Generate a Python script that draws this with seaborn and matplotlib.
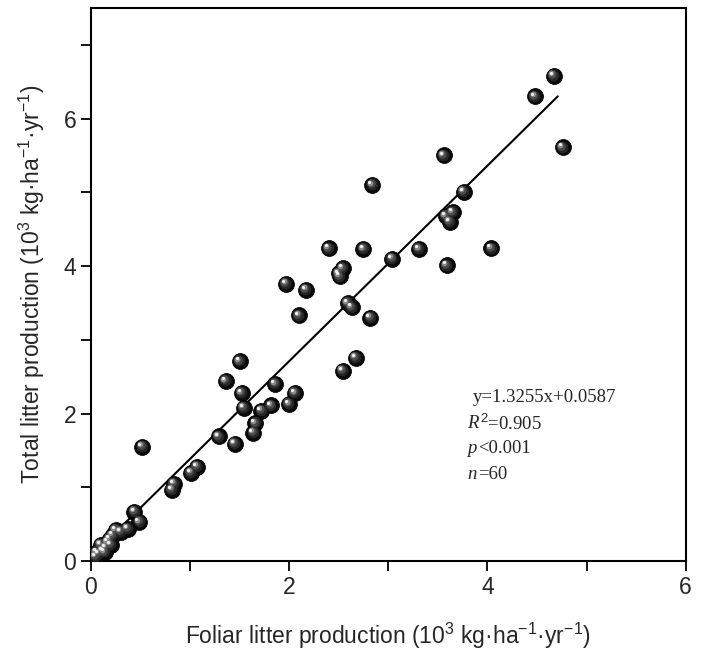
import numpy as np
import pandas as pd
import matplotlib
matplotlib.use("Agg")
import matplotlib.pyplot as plt
import matplotlib.transforms as mtransforms
import seaborn as sns

# foliar vs total litter production (10^3 kg ha-1 yr-1)
foliar = [4.67, 4.48, 4.76, 3.56, 2.84, 3.76, 3.65, 3.62, 2.75, 3.04,
          3.31, 3.59, 4.04, 2.40, 2.54, 2.51, 1.97, 2.17, 2.10, 2.59,
          2.63, 2.82, 2.67, 2.54, 1.50, 1.36, 1.86, 1.52, 2.06, 2.00,
          1.82, 1.72, 1.54, 1.66, 1.64, 1.29, 1.45, 1.07, 1.01, 0.84,
          0.82, 0.52, 0.44, 0.49, 0.37, 0.25, 0.19, 0.20, 0.15, 0.12,
          0.08, 0.05, 0.10, 0.17, 0.14, 0.22, 0.30, 0.06, 2.50, 3.58]
total = [6.58, 6.30, 5.61, 5.50, 5.10, 5.01, 4.73, 4.60, 4.23, 4.10,
         4.23, 4.01, 4.24, 4.24, 3.97, 3.86, 3.76, 3.68, 3.33, 3.50,
         3.44, 3.30, 2.76, 2.58, 2.71, 2.44, 2.40, 2.28, 2.28, 2.13,
         2.11, 2.04, 2.08, 1.87, 1.74, 1.69, 1.59, 1.28, 1.20, 1.05,
         0.97, 1.55, 0.67, 0.53, 0.44, 0.42, 0.30, 0.22, 0.18, 0.14,
         0.10, 0.06, 0.22, 0.26, 0.12, 0.35, 0.40, 0.12, 3.90, 4.68]

slope, intercept = 1.3255, 0.0587
x_ticks = [0, 2, 4, 6]
y_ticks = [0, 2, 4, 6]

df = pd.DataFrame({"foliar": foliar, "total": total})

sns.set_style("ticks")
plt.rcParams["font.family"] = ["Liberation Sans", "DejaVu Sans"]
plt.rcParams["mathtext.fontset"] = "custom"
plt.rcParams["mathtext.rm"] = "Liberation Sans"
plt.rcParams["mathtext.it"] = "Liberation Sans:italic"

fig = plt.figure(figsize=(7.04, 6.64), dpi=100)
ax = fig.add_axes([0.129, 0.155, 0.845, 0.833])

# fitted line
xs = np.array([df.foliar.min(), df.foliar.max() - 0.05])
fit = pd.DataFrame({"x": xs, "y": slope * xs + intercept})
sns.lineplot(data=fit, x="x", y="y", color="black", linewidth=1.5, ax=ax, zorder=2)

# shaded "ball" markers: dark base + lighter layers shifted up-left
sns.scatterplot(data=df, x="foliar", y="total", s=130, color="#0a0a0a",
                edgecolor="#000000", linewidth=0.6, ax=ax, zorder=3)
layers = [(70, "#262626", 0.6), (38, "#4a4a4a", 1.2), (16, "#8c8c8c", 1.7), (5, "#f2f2f2", 2.1)]
for size, col, off in layers:
    tr = mtransforms.offset_copy(ax.transData, fig=fig, x=-off, y=off, units="points")
    ax.scatter(df.foliar, df.total, s=size, color=col, linewidths=0, transform=tr, zorder=4)

ax.set_xlim(0, 6)
ax.set_ylim(0, 7.5)
ax.set_xticks(x_ticks)
ax.set_yticks(y_ticks)
ax.set_xticks([1, 3, 5], minor=True)
ax.set_yticks([1, 3, 5, 7], minor=True)
ax.tick_params(which="both", direction="out", length=7, width=1.3, labelsize=16.5,
               top=False, right=False, color="black")
for sp in ax.spines.values():
    sp.set_visible(True)
    sp.set_linewidth(1.5)
    sp.set_color("black")

ax.set_xlabel(r"Foliar litter production (10$^3$ kg·ha$^{-1}$·yr$^{-1}$)", fontsize=16.5, labelpad=16)
ax.set_ylabel(r"Total litter production (10$^3$ kg·ha$^{-1}$·yr$^{-1}$)", fontsize=16.5, labelpad=12)

# regression statistics
serif = ["Liberation Serif", "DejaVu Serif"]
ax.text(0.642, 0.295, "y=1.3255x+0.0587", transform=ax.transAxes, fontsize=13.5,
        family=serif, va="center")
ax.text(0.633, 0.248, "R", transform=ax.transAxes, fontsize=13.5, family=serif,
        style="italic", va="center")
ax.text(0.655, 0.248, "$^2$=0.905", transform=ax.transAxes, fontsize=13.5, family=serif, va="center")
ax.text(0.633, 0.203, "p", transform=ax.transAxes, fontsize=13.5, family=serif,
        style="italic", va="center")
ax.text(0.651, 0.203, "<0.001", transform=ax.transAxes, fontsize=13.5, family=serif, va="center")
ax.text(0.633, 0.157, "n", transform=ax.transAxes, fontsize=13.5, family=serif,
        style="italic", va="center")
ax.text(0.651, 0.157, "=60", transform=ax.transAxes, fontsize=13.5, family=serif, va="center")

fig.savefig("out.png", dpi=100, facecolor="white")
